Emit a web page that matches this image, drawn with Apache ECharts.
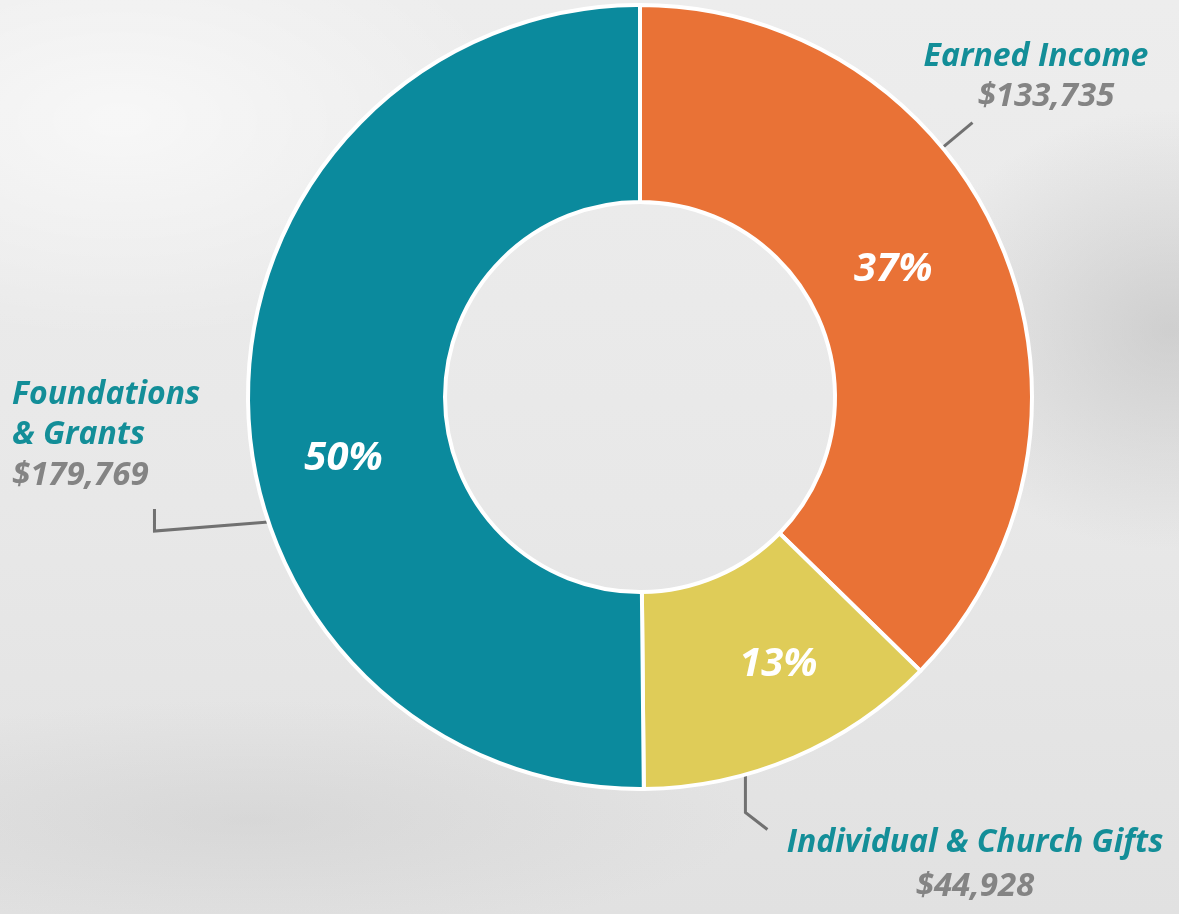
<!DOCTYPE html>
<html>
<head>
<meta charset="utf-8">
<script src="https://cdn.jsdelivr.net/npm/echarts@6/dist/echarts.min.js"></script>
<style>
html,body{margin:0;padding:0;width:1179px;height:914px;overflow:hidden;}
body{
  background:
    radial-gradient(ellipse 260px 220px at 1170px 330px, rgba(175,175,175,0.45), rgba(175,175,175,0) 100%),
    radial-gradient(ellipse 500px 120px at 250px 820px, rgba(195,195,195,0.35), rgba(195,195,195,0) 100%),
    radial-gradient(ellipse 400px 220px at 120px 120px, rgba(255,255,255,0.6), rgba(255,255,255,0) 100%),
    linear-gradient(180deg, #ededed 0%, #e8e8e8 55%, #e1e1e1 100%);
}
#chart{width:1179px;height:914px;}
</style>
</head>
<body>
<div id="chart"></div>
<script>
// ---- data ----
var categories = ['Earned Income', 'Individual & Church Gifts', 'Foundations & Grants'];
var labelNames = ['Earned Income', 'Individual & Church Gifts', 'Foundations\n& Grants'];
var values = [133735, 44928, 179769];
var colors = ['#e97236', '#dfcc58', '#0b8a9d'];

// ---- layout (label placement, not data) ----
var CX = 640, CY = 397, R_IN = 195, R_OUT = 392;
var labelLayoutCfg = [
  { angle: 50.5, x: 1036, y: 37, align: 'center', bends: [[30, -25]], lh: [40, 40] },
  { angle: 164.4, x: 975, y: 822, align: 'center', bends: [[0, 38], [22, 55]], lh: [42, 46] },
  { angle: 251.4, x: 12, y: 375, align: 'left', bends: [[-114, 9], [-114, -13]], lh: [40, 42] }
];
var pctOffsets = [[-20, -12], [22, -5], [0, 60]];
var valuePad = [20, 0, 0];

function money(v) {
  return '$' + String(v).replace(/\B(?=(\d{3})+(?!\d))/g, ',');
}

var chart = echarts.init(document.getElementById('chart'), null, { renderer: 'canvas' });
var fontFam = '"Open Sans", Lato, sans-serif';

var dataMain = categories.map(function (c, i) {
  return { name: c, value: values[i], itemStyle: { color: colors[i] } };
});

function richFor(lh, pad) {
  return {
    n: { color: '#138e98', fontFamily: fontFam, fontStyle: 'italic', fontWeight: 'bold', fontSize: 32, lineHeight: lh[0] },
    v: { color: '#848484', fontFamily: fontFam, fontStyle: 'italic', fontWeight: 'bold', fontSize: 33, lineHeight: lh[1] },
    s: { width: pad, lineHeight: lh[1] }
  };
}

var option = {
  backgroundColor: 'transparent',
  animation: false,
  series: [
    {
      type: 'pie',
      center: [CX, CY],
      radius: [R_IN, R_OUT],
      startAngle: 90,
      clockwise: true,
      silent: true,
      itemStyle: { borderColor: '#ffffff', borderWidth: 4 },
      label: {
        show: true,
        position: 'inside',
        formatter: function (p) { return Math.round(p.percent) + '%'; },
        color: '#ffffff',
        fontFamily: fontFam,
        fontStyle: 'italic',
        fontWeight: 'bold',
        fontSize: 40
      },
      labelLine: { show: false },
      labelLayout: function (p) {
        var o = pctOffsets[p.dataIndex];
        return { dx: o[0], dy: o[1] };
      },
      data: dataMain
    },
    {
      type: 'pie',
      center: [CX, CY],
      radius: [R_IN, R_OUT],
      startAngle: 90,
      clockwise: true,
      silent: true,
      itemStyle: { color: 'transparent', borderWidth: 0 },
      label: {
        show: true,
        position: 'outside',
        overflow: 'none',
        edgeDistance: 0,
        formatter: function (p) {
          var parts = labelNames[p.dataIndex].split('\n').map(function (s) { return '{n|' + s + '}'; });
          var pad = valuePad[p.dataIndex] ? '{s|}' : '';
          parts.push(pad + '{v|' + money(p.value) + '}');
          return parts.join('\n');
        }
      },
      labelLine: { show: true, lineStyle: { color: '#717171', width: 3 } },
      labelLayout: function (p) {
        var c = labelLayoutCfg[p.dataIndex];
        var a = c.angle * Math.PI / 180;
        var sx = CX + R_OUT * Math.sin(a), sy = CY - R_OUT * Math.cos(a);
        var pts = [[sx, sy]];
        c.bends.forEach(function (b) { pts.push([sx + b[0], sy + b[1]]); });
        if (pts.length === 2) pts.push(pts[1].slice());
        return { x: c.x, y: c.y, align: c.align, verticalAlign: 'top', labelLinePoints: pts };
      },
      data: categories.map(function (c, i) {
        var cfg = labelLayoutCfg[i];
        return { name: c, value: values[i], label: { rich: richFor(cfg.lh, valuePad[i]) } };
      })
    }
  ]
};
chart.setOption(option);
</script>
</body>
</html>
